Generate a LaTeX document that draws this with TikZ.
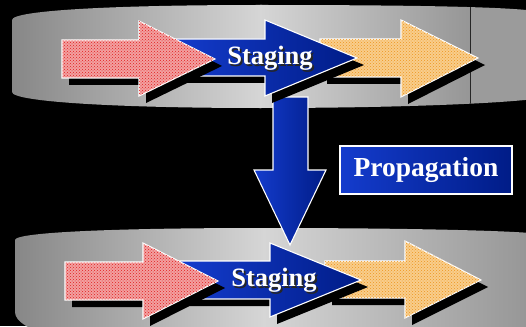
\documentclass[tikz,border=0pt]{standalone}
\usepackage{fontspec}
\setmainfont{Liberation Serif}
\usetikzlibrary{patterns}
\definecolor{bluelite}{RGB}{20,60,205}
\definecolor{bluedark}{RGB}{0,28,135}
\definecolor{redbase}{RGB}{242,160,160}
\definecolor{reddot}{RGB}{225,30,30}
\definecolor{orbase}{RGB}{248,205,140}
\definecolor{ordot}{RGB}{238,150,30}
\definecolor{bandA}{RGB}{135,135,135}
\definecolor{bandB}{RGB}{214,214,214}
\definecolor{bandC}{RGB}{150,150,150}
\newcommand\shtext[1]{\leavevmode\rlap{\kern1.8pt\raisebox{-1.8pt}{\textcolor{black!85}{#1}}}#1}
\tikzset{
  arrline/.style={draw=white, line width=1.1pt, line join=miter},
  shadowfill/.style={fill=black},
  redarr/.style={arrline, fill=redbase, postaction={pattern=crosshatch dots, pattern color=reddot}},
  orarr/.style={arrline, fill=orbase, postaction={pattern=crosshatch dots, pattern color=ordot}},
  bluearr/.style={arrline, left color=bluelite, right color=bluedark},
  stagetxt/.style={font=\fontsize{26.5}{26.5}\selectfont\bfseries, text=white, inner sep=0pt},
}
\begin{document}
\begin{tikzpicture}[x=1pt,y=-1pt]
\useasboundingbox (0,0) rectangle (526,326);
\fill[black] (0,0) rectangle (526,326);
% top band
\begin{scope}
\clip (12,20) .. controls (12,10) and (120,5) .. (260,5) .. controls (420,5) and (520,7) .. (540,12) -- (540,98) .. controls (520,102) and (420,108) .. (260,108) .. controls (120,108) and (12,102) .. (12,92) -- cycle;
\shade[left color=bandA, right color=bandB] (12,0) rectangle (262,110);
\shade[left color=bandB, right color=bandC] (260,0) rectangle (470,110);
\fill[bandC!95!white] (470,0) rectangle (540,110);
\draw[black!85, line width=0.8pt] (470,0) -- (470,110);
\end{scope}
% bottom band
\begin{scope}
\clip (15,240) .. controls (15,232) and (120,228) .. (263,228) .. controls (420,228) and (520,231) .. (540,234) -- (540,340) -- (60,340) .. controls (30,330) and (15,322) .. (15,312) -- cycle;
\shade[left color=bandA, right color=bandB] (15,220) rectangle (265,330);
\shade[left color=bandB, right color=bandC] (263,220) rectangle (530,330);
\end{scope}
% down arrow
\path[bluearr] (273,97) -- (308,97) -- (308,170) -- (326,170) -- (290,245) -- (254,170) -- (273,170) -- cycle;
% top row: orange
\fill[shadowfill] (327,46) -- (408,46) -- (408,27) -- (485,65) -- (408,104) -- (408,84) -- (327,84) -- cycle;
\path[orarr] (320,39) -- (401,39) -- (401,20) -- (478,58) -- (401,97) -- (401,77) -- (320,77) -- cycle;
% top row: blue
\fill[shadowfill] (177,46) -- (272,46) -- (272,27) -- (364,65) -- (272,103) -- (272,83) -- (177,83) -- cycle;
\path[bluearr] (170,39) -- (265,39) -- (265,20) -- (357,58) -- (265,96) -- (265,76) -- (170,76) -- cycle;
% top row: red
\fill[shadowfill] (69,47) -- (146,47) -- (146,28) -- (222,66) -- (146,103) -- (146,85) -- (69,85) -- cycle;
\path[redarr] (62,40) -- (139,40) -- (139,21) -- (215,59) -- (139,96) -- (139,78) -- (62,78) -- cycle;
\node[stagetxt] (s1) at (270,59) {\shtext{Staging}};
% bottom row: orange
\fill[shadowfill] (332,268) -- (412,268) -- (412,248) -- (488,287) -- (412,325) -- (412,305) -- (332,305) -- cycle;
\path[orarr] (325,261) -- (405,261) -- (405,241) -- (481,280) -- (405,318) -- (405,298) -- (325,298) -- cycle;
% bottom row: blue
\fill[shadowfill] (187,268) -- (277,268) -- (277,250) -- (368,287) -- (277,324) -- (277,306) -- (187,306) -- cycle;
\path[bluearr] (180,261) -- (270,261) -- (270,243) -- (361,280) -- (270,317) -- (270,299) -- (180,299) -- cycle;
% bottom row: red
\fill[shadowfill] (72,269) -- (150,269) -- (150,250) -- (225,288) -- (150,326) -- (150,307) -- (72,307) -- cycle;
\path[redarr] (65,262) -- (143,262) -- (143,243) -- (218,281) -- (143,319) -- (143,300) -- (65,300) -- cycle;
\node[stagetxt] (s2) at (274,281) {\shtext{Staging}};
% propagation box
\node[draw=white, line width=1.5pt, left color=bluelite, right color=bluedark, minimum width=172pt, minimum height=48pt, inner sep=0pt, text=white, font=\fontsize{27.5}{27.5}\selectfont\bfseries] (prop) at (426,170) {Propagation};
\end{tikzpicture}
\end{document}
